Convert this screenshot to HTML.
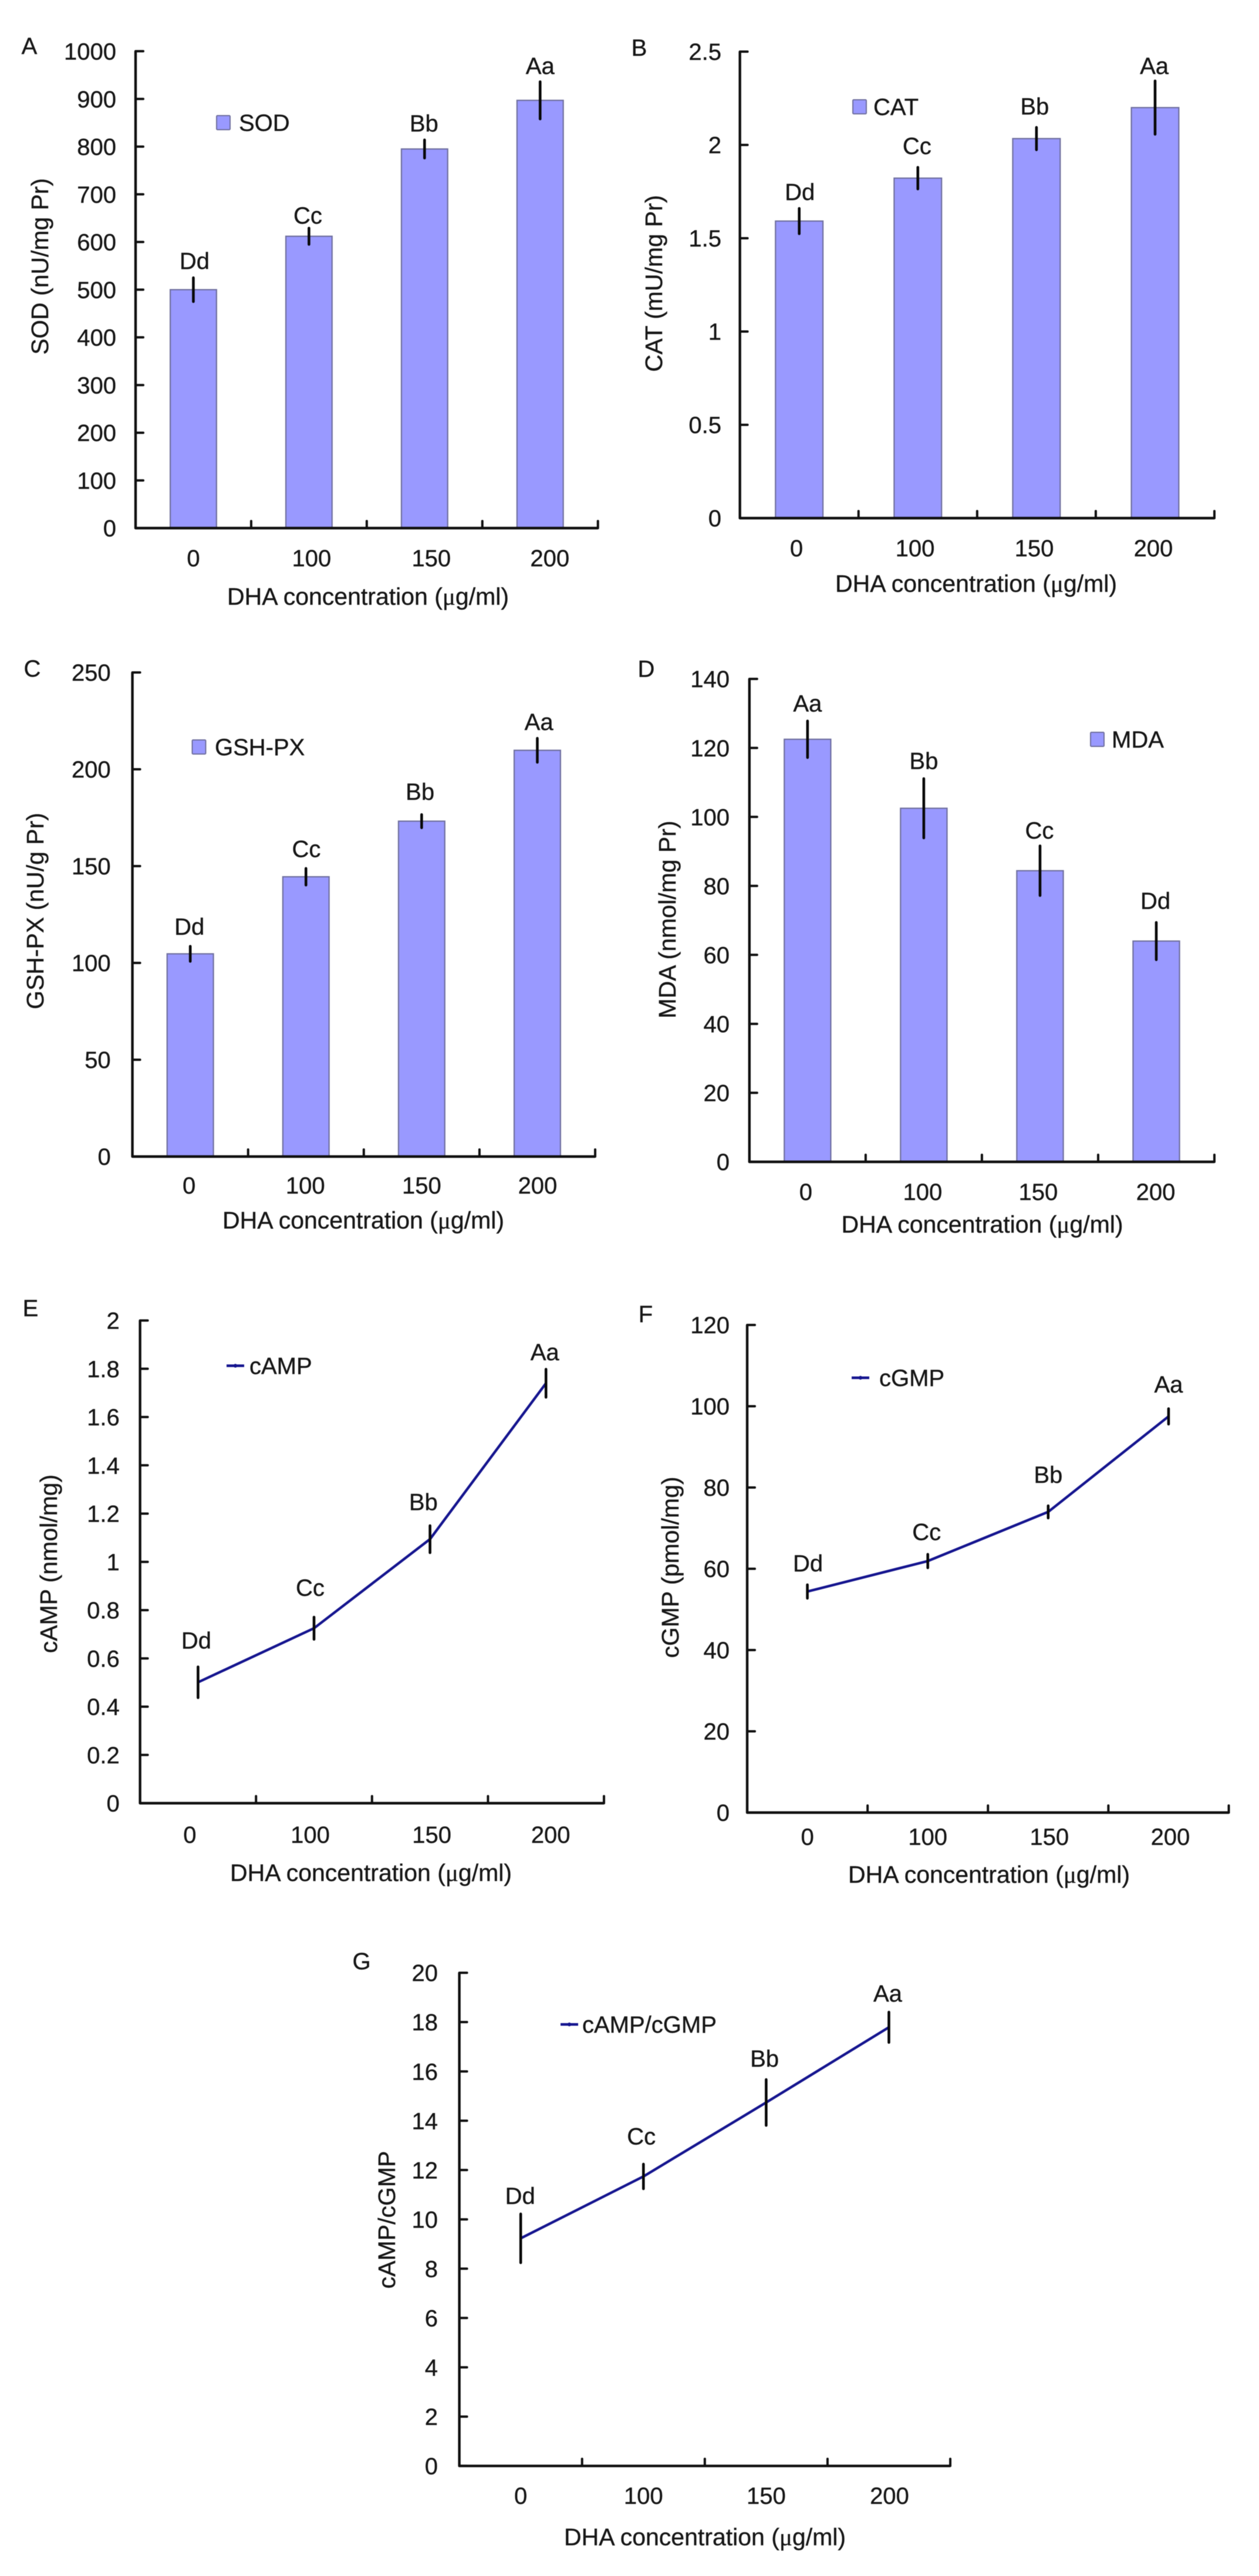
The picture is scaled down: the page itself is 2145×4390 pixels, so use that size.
<!DOCTYPE html>
<html lang="en">
<head>
<meta charset="utf-8">
<title>DHA concentration effects on SOD, CAT, GSH-PX, MDA, cAMP, cGMP and cAMP/cGMP</title>
<style>
  html, body { margin: 0; padding: 0; background: #fff; width: 2145px; height: 4390px; overflow: hidden; }
  svg { display: block; filter: blur(0.6px); }
  text { font-family: "Liberation Sans", Arial, sans-serif; fill: #161616; stroke: #161616; stroke-width: 0.4px; }
  .mu { font-family: "Liberation Serif", "Times New Roman", serif; }
</style>
</head>
<body>
<svg id="figure" xmlns="http://www.w3.org/2000/svg" width="2145" height="4390" viewBox="0 0 2145 4390"></svg>
<script>
// ---------- Data ----------
const categories = ['0', '100', '150', '200'];

const sodTicks = [0, 100, 200, 300, 400, 500, 600, 700, 800, 900, 1000];
const sodValues = [500, 612, 795, 897];
const sodErrors = [25, 17, 19, 39];
const sodLetters = ['Dd', 'Cc', 'Bb', 'Aa'];

const catTicks = [0, 0.5, 1, 1.5, 2, 2.5];
const catValues = [1.592, 1.822, 2.034, 2.2];
const catErrors = [0.068, 0.058, 0.06, 0.143];
const catLetters = ['Dd', 'Cc', 'Bb', 'Aa'];

const gshTicks = [0, 50, 100, 150, 200, 250];
const gshValues = [104.7, 144.5, 173.2, 209.8];
const gshErrors = [3.9, 4.3, 3.4, 6.2];
const gshLetters = ['Dd', 'Cc', 'Bb', 'Aa'];

const mdaTicks = [0, 20, 40, 60, 80, 100, 120, 140];
const mdaValues = [122.5, 102.5, 84.4, 64];
const mdaErrors = [5.3, 8.6, 7.2, 5.4];
const mdaLetters = ['Aa', 'Bb', 'Cc', 'Dd'];

const campTicks = [0, 0.2, 0.4, 0.6, 0.8, 1, 1.2, 1.4, 1.6, 1.8, 2];
const campValues = [0.501, 0.725, 1.094, 1.74];
const campErrors = [0.064, 0.046, 0.056, 0.058];
const campLetters = ['Dd', 'Cc', 'Bb', 'Aa'];

const cgmpTicks = [0, 20, 40, 60, 80, 100, 120];
const cgmpValues = [54.4, 61.9, 74, 97.5];
const cgmpErrors = [1.66, 1.66, 1.5, 1.9];
const cgmpLetters = ['Dd', 'Cc', 'Bb', 'Aa'];

const ratioTicks = [0, 2, 4, 6, 8, 10, 12, 14, 16, 18, 20];
const ratioValues = [9.23, 11.74, 14.74, 17.79];
const ratioErrors = [0.99, 0.5, 0.93, 0.615];
const ratioLetters = ['Dd', 'Cc', 'Bb', 'Aa'];

// ---------- Drawing ----------
const SVG_NS = 'http://www.w3.org/2000/svg';
const figure = document.getElementById('figure');
const AXIS = '#101010', BAR_FILL = '#9999ff', BAR_EDGE = '#70709f', LINE = '#15158f';

function mk(parent, tag, attrs) {
  const el = document.createElementNS(SVG_NS, tag);
  for (const k in attrs) el.setAttribute(k, attrs[k]);
  parent.appendChild(el);
  return el;
}
function label(parent, str, x, cy, anchor, size) {
  const fs = size || 40;
  return mk(parent, 'text', { x: x, y: cy + fs * 0.355, 'text-anchor': anchor || 'middle', 'font-size': fs });
}

function drawPanel(p) {
  const g = mk(figure, 'g', {});
  
  

  const maxV = p.ticks[p.ticks.length - 1];
  const yOf = v => p.y0 - (v / maxV) * (p.y0 - p.top);
  const catW = (p.x1 - p.x0) / p.categories.length;
  const xOf = i => p.x0 + catW * (i + 0.5);

  // panel letter
  const letter = label(g, '', p.letterX, p.letterY, 'middle');
  letter.textContent = p.letter;
  
  

  // bars
  if (p.kind === 'bar') {
    const barW = catW * 0.4;
    p.values.forEach((v, i) => {
      const r = mk(g, 'rect', { x: xOf(i) - barW / 2, y: yOf(v), width: barW, height: p.y0 - yOf(v), fill: BAR_FILL, stroke: BAR_EDGE, 'stroke-width': 2.2 });
      
      
    });
  }

  // axes
  const axisD = 'M' + p.x0 + ' ' + p.top + 'V' + p.y0 + 'H' + p.x1;
  const axes = mk(g, 'path', { d: axisD, fill: 'none', stroke: AXIS, 'stroke-width': 4.4, 'stroke-linejoin': 'round' });
  
  

  // y ticks + labels
  p.ticks.forEach(t => {
    const tick = mk(g, 'line', { x1: p.x0, x2: p.x0 + 13, y1: yOf(t), y2: yOf(t), stroke: AXIS, 'stroke-width': 4, 'stroke-linecap': 'round' });
    
    
    const tl = label(g, '', p.yLabelRight, yOf(t), 'end');
    tl.textContent = String(t);
    
    
  });

  // x ticks + labels
  p.categories.forEach((c, i) => {
    const tx = p.x0 + catW * (i + 1);
    const tick = mk(g, 'line', { x1: tx, x2: tx, y1: p.y0, y2: p.y0 - 12, stroke: AXIS, 'stroke-width': 4, 'stroke-linecap': 'round' });
    
    
    const tl = label(g, '', xOf(i) + p.xLabelNudge[i], p.xLabelY, 'middle');
    tl.textContent = c;
    
    
  });

  // line series
  if (p.kind === 'line') {
    const pts = p.values.map((v, i) => xOf(i) + ',' + yOf(v)).join(' ');
    const line = mk(g, 'polyline', { points: pts, fill: 'none', stroke: LINE, 'stroke-width': 4.4, 'stroke-linejoin': 'round' });
    
    
  }

  // error bars + significance letters
  p.values.forEach((v, i) => {
    const ex = xOf(i);
    const err = mk(g, 'line', { x1: ex, x2: ex, y1: yOf(v + p.errors[i]), y2: yOf(v - p.errors[i]), stroke: '#080808', 'stroke-width': 4.6, 'stroke-linecap': 'round' });
    
    
    const off = p.letterOffsets[i];
    const sig = label(g, '', ex + off[0], yOf(v) + off[1], 'middle');
    sig.textContent = p.letters[i];
    
    
  });

  // legend
  const lg = mk(g, 'g', {});
  
  
  if (p.kind === 'bar') {
    const sw = mk(lg, 'rect', { x: p.legend.x, y: p.legend.y - 12, width: 23, height: 24, rx: 1.5, fill: BAR_FILL, stroke: BAR_EDGE, 'stroke-width': 2 });
    
    
  } else {
    const sw = mk(lg, 'line', { x1: p.legend.x, x2: p.legend.x + 30, y1: p.legend.y, y2: p.legend.y, stroke: LINE, 'stroke-width': 4.4 });
    
    
    const dot = mk(lg, 'circle', { cx: p.legend.x + 15, cy: p.legend.y, r: 3.2, fill: LINE });
    
    
  }
  const lt = label(lg, '', p.legend.tx, p.legend.y, 'start');
  lt.textContent = p.legendText;
  
  

  // axis titles
  const xt = label(g, '', p.xTitleX, p.xTitleY, 'middle', 41);
  
  
  xt.appendChild(document.createTextNode('DHA concentration ('));
  const mu = mk(xt, 'tspan', { class: 'mu' });
  mu.textContent = 'μ';
  xt.appendChild(document.createTextNode('g/ml)'));

  const yt = mk(g, 'text', { x: 0, y: 14, 'text-anchor': 'middle', 'font-size': 41, transform: 'translate(' + p.yTitleX + ' ' + p.yTitleY + ') rotate(-90)' });
  yt.textContent = p.yTitle;
  
  
}

drawPanel({ id: 'sod', kind: 'bar', letter: 'A', categories, ticks: sodTicks, values: sodValues, errors: sodErrors, letters: sodLetters,
  x0: 231, x1: 1018.7, top: 87.3, y0: 900, letterX: 50, letterY: 78, yLabelRight: 198, xLabelY: 951,
  xLabelNudge: [0, 4.5, 11.5, 16.5], letterOffsets: [[2, -49.5], [-2, -36], [-1, -44], [0, -59]],
  legend: { x: 369, y: 209, tx: 407 }, legendText: 'SOD', yTitle: 'SOD (nU/mg Pr)', yTitleX: 68, yTitleY: 454, xTitleX: 627, xTitleY: 1016 });

drawPanel({ id: 'cat', kind: 'bar', letter: 'B', categories, ticks: catTicks, values: catValues, errors: catErrors, letters: catLetters,
  x0: 1260.6, x1: 2069, top: 88, y0: 883, letterX: 1089, letterY: 81, yLabelRight: 1229, xLabelY: 934,
  xLabelNudge: [-4.6, -4.7, -3.8, -3], letterOffsets: [[1, -50], [-1.4, -55.4], [-3, -55.4], [-1.4, -71.7]],
  legend: { x: 1453, y: 182, tx: 1488 }, legendText: 'CAT', yTitle: 'CAT (mU/mg Pr)', yTitleX: 1114, yTitleY: 483, xTitleX: 1663, xTitleY: 994 });

drawPanel({ id: 'gsh-px', kind: 'bar', letter: 'C', categories, ticks: gshTicks, values: gshValues, errors: gshErrors, letters: gshLetters,
  x0: 225.6, x1: 1014, top: 1146, y0: 1971, letterX: 55, letterY: 1139, yLabelRight: 188.7, xLabelY: 2019.6,
  xLabelNudge: [-2, -1, 0, 0.5], letterOffsets: [[-1.4, -46.6], [0.7, -48], [-2.7, -50.7], [2.7, -48.7]],
  legend: { x: 327.5, y: 1273, tx: 366 }, legendText: 'GSH-PX', yTitle: 'GSH-PX (nU/g Pr)', yTitleX: 60, yTitleY: 1552.5, xTitleX: 619, xTitleY: 2079 });

drawPanel({ id: 'mda', kind: 'bar', letter: 'D', categories, ticks: mdaTicks, values: mdaValues, errors: mdaErrors, letters: mdaLetters,
  x0: 1276.8, x1: 2069, top: 1157, y0: 1980, letterX: 1101, letterY: 1139.5, yLabelRight: 1243, xLabelY: 2031,
  xLabelNudge: [-3, -2, -3, -1], letterOffsets: [[0, -61.5], [0, -81], [-1, -69], [-1.4, -69]],
  legend: { x: 1858, y: 1260, tx: 1894 }, legendText: 'MDA', yTitle: 'MDA (nmol/mg Pr)', yTitleX: 1137, yTitleY: 1567, xTitleX: 1673.5, xTitleY: 2086 });

drawPanel({ id: 'camp', kind: 'line', letter: 'E', categories, ticks: campTicks, values: campValues, errors: campErrors, letters: campLetters,
  x0: 238.6, x1: 1029, top: 2250.4, y0: 3073, letterX: 52, letterY: 2229, yLabelRight: 203.7, xLabelY: 3126.5,
  xLabelNudge: [-14, -6.5, 3, 8], letterOffsets: [[-3, -71.7], [-6.5, -69.6], [-11.3, -63.5], [-2, -53.4]],
  legend: { x: 386, y: 2327.5, tx: 425 }, legendText: 'cAMP', yTitle: 'cAMP (nmol/mg)', yTitleX: 83, yTitleY: 2665, xTitleX: 632, xTitleY: 3191 });

drawPanel({ id: 'cgmp', kind: 'line', letter: 'F', categories, ticks: cgmpTicks, values: cgmpValues, errors: cgmpErrors, letters: cgmpLetters,
  x0: 1273, x1: 2093.5, top: 2258, y0: 3089, letterX: 1100, letterY: 2239, yLabelRight: 1243, xLabelY: 3130,
  xLabelNudge: [0, 0, 2, 3], letterOffsets: [[1, -48.7], [-2, -50], [0, -64], [0, -54.8]],
  legend: { x: 1451, y: 2348, tx: 1498 }, legendText: 'cGMP', yTitle: 'cGMP (pmol/mg)', yTitleX: 1142, yTitleY: 2671, xTitleX: 1685, xTitleY: 3194 });

drawPanel({ id: 'camp-cgmp-ratio', kind: 'line', letter: 'G', categories, ticks: ratioTicks, values: ratioValues, errors: ratioErrors, letters: ratioLetters,
  x0: 782.6, x1: 1619, top: 3362, y0: 4202.4, letterX: 616, letterY: 3342, yLabelRight: 746, xLabelY: 4253,
  xLabelNudge: [0, 0, 0, 1], letterOffsets: [[-1, -73], [-3.5, -69], [-2.8, -75], [-2, -58]],
  legend: { x: 955, y: 3450, tx: 992 }, legendText: 'cAMP/cGMP', yTitle: 'cAMP/cGMP', yTitleX: 659, yTitleY: 3783, xTitleX: 1201, xTitleY: 4323 });
</script>
</body>
</html>
